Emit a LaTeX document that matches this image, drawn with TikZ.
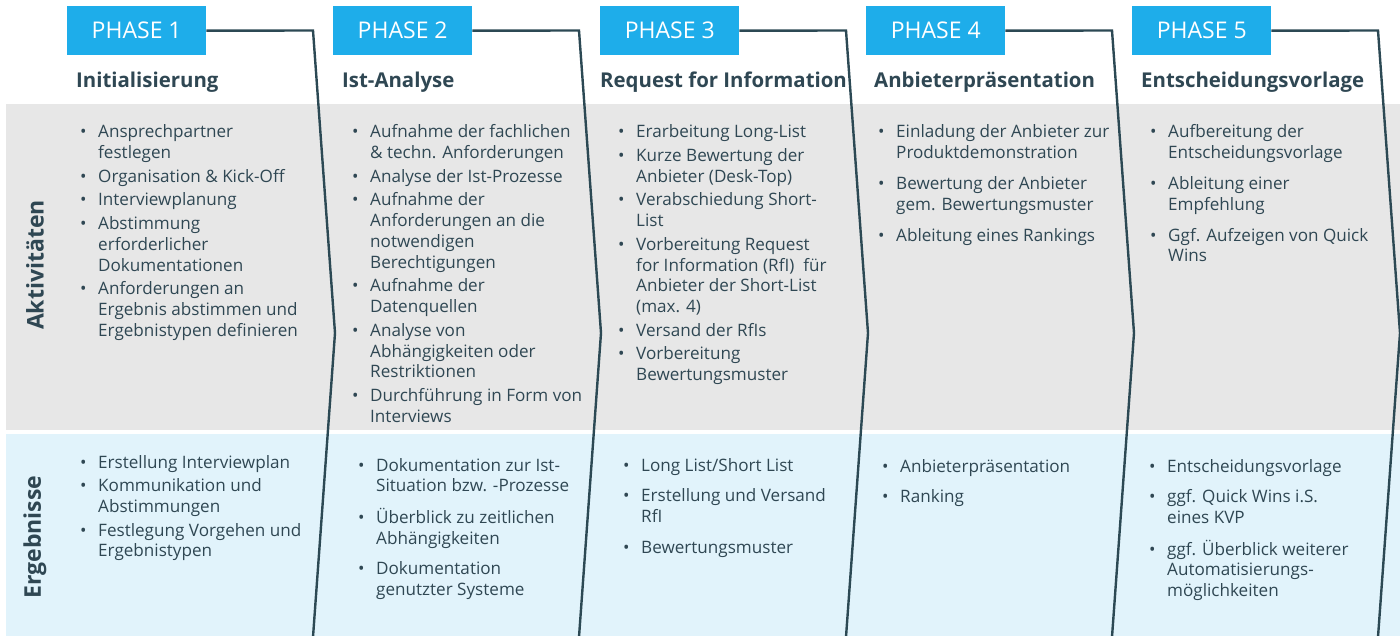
\documentclass[tikz,border=0pt]{standalone}
\usepackage{fontspec}
\setmainfont{Open Sans}
\definecolor{boxblue}{HTML}{1EADEA}
\definecolor{linec}{HTML}{2C4954}
\definecolor{txt}{HTML}{2F4753}
\definecolor{grayband}{HTML}{E7E7E7}
\definecolor{blueband}{HTML}{E1F3FB}
\newlength\bw \setlength\bw{18pt}
\newcommand\bi{\makebox[\bw][l]{\textbullet}}
\newcommand\ci{\hspace*{\bw}}
\newcommand\lst[1]{\begin{tabular}[t]{@{}l@{}}#1\end{tabular}}
\tikzset{
  phasebox/.style={fill=boxblue, text=white, minimum width=139pt, minimum height=49pt, inner sep=0pt, anchor=north west, font=\fontsize{23}{23}\selectfont},
  phasetitle/.style={anchor=base west, inner sep=0pt, text=txt, font=\bfseries\fontsize{20.4}{22}\selectfont},
  items/.style={anchor=base west, inner sep=0pt, text=txt, font=\fontsize{17.1}{20.8}\selectfont},
  phaseline/.style={draw=linec, line width=2.4pt, line join=miter},
  sidelabel/.style={rotate=90, inner sep=0pt, text=txt, font=\bfseries\fontsize{23}{23}\selectfont},
}
\begin{document}
\begin{tikzpicture}[x=1pt,y=-1pt]
\useasboundingbox (0,0) rectangle (1400,636);
% bands
\fill[grayband] (6,104) rectangle (1400,430);
\fill[blueband] (6,434) rectangle (1400,636);
% header boxes
\node[phasebox] (p1) at (67,6) {PHASE 1};
\node[phasebox] (p2) at (333,6) {PHASE 2};
\node[phasebox] (p3) at (600,6) {PHASE 3};
\node[phasebox] (p4) at (866,6) {PHASE 4};
\node[phasebox] (p5) at (1132,6) {PHASE 5};
% phase lines
\foreach \n/\x in {1/313,2/579,3/846,4/1112,5/1378}{
  \coordinate (t\n) at (\x,30.5);
  \coordinate (m\n) at (\x+22,333);
  \coordinate (b\n) at (\x,637);
  \draw[phaseline] (p\n.east) -- (t\n) -- (m\n) -- (b\n);
}
% titles
\node[phasetitle] (h1) at (76,88) {Initialisierung};
\node[phasetitle] (h2) at (342,88) {Ist-Analyse};
\node[phasetitle] (h3) at (600,88) {Request for Information};
\node[phasetitle] (h4) at (874,88) {Anbieterpräsentation};
\node[phasetitle] (h5) at (1141,88) {Entscheidungsvorlage};
% side labels
\node[sidelabel] (la) at (35,265) {Aktivitäten};
\node[sidelabel] (le) at (35,537) {Ergebnisse};
% activities
\node[items] (a1) at (80,138) {\lst{\bi Ansprechpartner\\ \ci festlegen\\[2.8pt]
\bi Organisation \& Kick-Off\\[2.8pt]
\bi Interviewplanung\\[2.8pt]
\bi Abstimmung\\ \ci erforderlicher\\ \ci Dokumentationen\\[2.8pt]
\bi Anforderungen an\\ \ci Ergebnis abstimmen und\\ \ci Ergebnistypen definieren}};
\node[items] (a2) at (352,138) {\lst{\bi Aufnahme der fachlichen\\ \ci \& techn. Anforderungen\\[2.8pt]
\bi Analyse der Ist-Prozesse\\[2.8pt]
\bi Aufnahme der\\ \ci Anforderungen an die\\ \ci notwendigen\\ \ci Berechtigungen\\[2.8pt]
\bi Aufnahme der\\ \ci Datenquellen\\[2.8pt]
\bi Analyse von\\ \ci Abhängigkeiten oder\\ \ci Restriktionen\\[2.8pt]
\bi Durchführung in Form von\\ \ci Interviews}};
\node[items] (a3) at (618,138) {\lst{\bi Erarbeitung Long-List\\[2.8pt]
\bi Kurze Bewertung der\\ \ci Anbieter (Desk-Top)\\[2.8pt]
\bi Verabschiedung Short-\\ \ci List\\[2.8pt]
\bi Vorbereitung Request\\ \ci for Information (RfI)\ \ für\\ \ci Anbieter der Short-List\\ \ci (max. 4)\\[2.8pt]
\bi Versand der RfIs\\[2.8pt]
\bi Vorbereitung\\ \ci Bewertungsmuster}};
\node[items] (a4) at (878,138) {\lst{\bi Einladung der Anbieter zur\\ \ci Produktdemonstration\\[10pt]
\bi Bewertung der Anbieter\\ \ci gem. Bewertungsmuster\\[10pt]
\bi Ableitung eines Rankings}};
\node[items] (a5) at (1150,138) {\lst{\bi Aufbereitung der\\ \ci Entscheidungsvorlage\\[10pt]
\bi Ableitung einer\\ \ci Empfehlung\\[10pt]
\bi Ggf. Aufzeigen von Quick\\ \ci Wins}};
% results
\node[items] (e1) at (80,468) {\lst{\bi Erstellung Interviewplan\\[2.8pt]
\bi Kommunikation und\\ \ci Abstimmungen\\[2.8pt]
\bi Festlegung Vorgehen und\\ \ci Ergebnistypen}};
\node[items] (e2) at (358,471) {\lst{\bi Dokumentation zur Ist-\\ \ci Situation bzw. -Prozesse\\[10pt]
\bi Überblick zu zeitlichen\\ \ci Abhängigkeiten\\[10pt]
\bi Dokumentation\\ \ci genutzter Systeme}};
\node[items] (e3) at (623,471) {\lst{\bi Long List/Short List\\[10pt]
\bi Erstellung und Versand\\ \ci RfI\\[10pt]
\bi Bewertungsmuster}};
\node[items] (e4) at (882,472) {\lst{\bi Anbieterpräsentation\\[10pt]
\bi Ranking}};
\node[items] (e5) at (1149,472) {\lst{\bi Entscheidungsvorlage\\[10pt]
\bi ggf. Quick Wins i.S.\\ \ci eines KVP\\[10pt]
\bi ggf. Überblick weiterer\\ \ci Automatisierungs-\\ \ci möglichkeiten}};
\end{tikzpicture}
\end{document}
